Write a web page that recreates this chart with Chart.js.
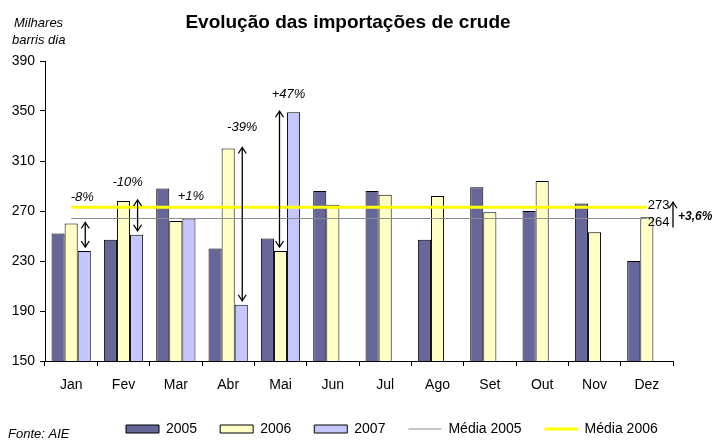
<!DOCTYPE html>
<html>
<head>
<meta charset="utf-8">
<script src="https://cdn.jsdelivr.net/npm/chart.js@4.4.0/dist/chart.umd.min.js"></script>
<style>
  html, body { margin: 0; padding: 0; background: #fff; }
  #wrap { width: 715px; height: 444px; }
</style>
</head>
<body>
<div id="wrap"><canvas id="importChart"></canvas></div>
<script>
const months = ['Jan', 'Fev', 'Mar', 'Abr', 'Mai', 'Jun', 'Jul', 'Ago', 'Set', 'Out', 'Nov', 'Dez'];
const imports2005 = [252, 247, 288, 240, 248, 286, 286, 247, 289, 270, 276, 230];
const imports2006 = [260, 278, 262, 320, 238, 275, 283, 282, 269, 294, 253, 265];
const imports2007 = [238, 251, 264, 195, 349, null, null, null, null, null, null, null];
const avg2005 = 264;
const avg2006 = 273;
const yMin = 150, yMax = 390, yStep = 40;

// 2007 vs 2006 change, per month
const changeMonths = ['Jan', 'Fev', 'Mar', 'Abr', 'Mai'];
const changeText = ['-8%', '-10%', '+1%', '-39%', '+47%'];
const arrowMonths = ['Jan', 'Fev', 'Abr', 'Mai'];
const avgChangeText = '+3,6%';

const FONT = 'Arial, "Liberation Sans", sans-serif';
Chart.defaults.font.family = FONT;
Chart.defaults.color = '#000';

function drawArrowHead(ctx, x, y, dir) {
    // dir = -1 points up, 1 points down
    ctx.beginPath();
    ctx.moveTo(x - 4, y - dir * 6);
    ctx.lineTo(x, y);
    ctx.lineTo(x + 4, y - dir * 6);
    ctx.stroke();
}

function drawArrow(ctx, x, yTop, yBottom, heads) {
    ctx.beginPath();
    ctx.moveTo(x, yTop);
    ctx.lineTo(x, yBottom);
    ctx.stroke();
    if (heads.top) drawArrowHead(ctx, x, yTop, -1);
    if (heads.bottom) drawArrowHead(ctx, x, yBottom, 1);
}

const annotations = {
    id: 'annotations',
    afterLayout(chart) {
        // place legend like the original (left-shifted, near bottom)
        const lg = chart.legend;
        const pad = lg.options.labels.padding;
        lg.left = 126 - pad;
        lg.right = chart.width;
        lg.top = 429 - 7 - pad;
    },
    afterDatasetsDraw(chart) {
        const ctx = chart.ctx;
        const y = chart.scales.y;
        const bars06 = chart.getDatasetMeta(1).data;
        const bars07 = chart.getDatasetMeta(2).data;
        ctx.save();
        ctx.strokeStyle = '#000';
        ctx.fillStyle = '#000';
        ctx.lineWidth = 1.3;

        // arrows between 2006 and 2007 bars
        arrowMonths.forEach(m => {
            const i = months.indexOf(m);
            const v06 = imports2006[i], v07 = imports2007[i];
            const x = v07 < v06 ? bars07[i].x + 1 : bars06[i].x - 1;
            const yHi = y.getPixelForValue(Math.max(v06, v07)) - 1;
            const yLo = y.getPixelForValue(Math.min(v06, v07)) - 4;
            drawArrow(ctx, x, yHi, yLo, { top: true, bottom: true });
        });

        // change labels
        const nudge = [[-2, -26], [-9, -19], [2, -22], [1, -21], [-5, -18]];
        ctx.font = 'italic 13px ' + FONT;
        ctx.textAlign = 'center';
        ctx.textBaseline = 'middle';
        changeMonths.forEach((m, k) => {
            const i = months.indexOf(m);
            const top = Math.max(imports2006[i], imports2007[i]);
            ctx.fillText(changeText[k], bars07[i].x + nudge[k][0], y.getPixelForValue(top) + nudge[k][1]);
        });

        // average labels on the right
        const lineEnd = chart.getDatasetMeta(4).data[months.length - 1].x;
        const yA6 = y.getPixelForValue(avg2006);
        const yA5 = y.getPixelForValue(avg2005);
        ctx.font = '13px ' + FONT;
        ctx.textAlign = 'left';
        ctx.fillText(String(avg2006), lineEnd + 1, yA6 - 2);
        ctx.fillText(String(avg2005), lineEnd + 1, yA5 + 4);
        const ax = chart.chartArea.right;
        drawArrow(ctx, ax, yA6 - 5, yA5 + 9, { top: true, bottom: false });
        ctx.font = 'bold italic 12px ' + FONT;
        ctx.fillText(avgChangeText, ax + 5, (yA6 + yA5) / 2 + 4);
        ctx.restore();
    },
    afterDraw(chart) {
        const ctx = chart.ctx;
        ctx.save();
        ctx.fillStyle = '#000';
        ctx.textBaseline = 'middle';
        ctx.textAlign = 'center';
        ctx.font = 'bold 19px ' + FONT;
        ctx.fillText('Evolução das importações de crude', 348, 23);
        ctx.textAlign = 'left';
        ctx.font = 'italic 13px ' + FONT;
        ctx.fillText('Milhares', 14, 23);
        ctx.fillText('barris dia', 12, 40);
        ctx.fillText('Fonte: AIE', 8, 434);
        ctx.restore();
    }
};

const ctx = document.getElementById('importChart').getContext('2d');
new Chart(ctx, {
    type: 'bar',
    data: {
        labels: months,
        datasets: [
            { label: '2005', data: imports2005, backgroundColor: '#666699', borderColor: '#000', borderWidth: 1, order: 1 },
            { label: '2006', data: imports2006, backgroundColor: '#FFFFC6', borderColor: '#000', borderWidth: 1, order: 1 },
            { label: '2007', data: imports2007, backgroundColor: '#C6C6FF', borderColor: '#000', borderWidth: 1, order: 1 },
            { type: 'line', label: 'Média 2005', data: months.map(() => avg2005), borderColor: '#8c8c8c', borderWidth: 1, pointRadius: 0, order: 0 },
            { type: 'line', label: 'Média 2006', data: months.map(() => avg2006), borderColor: '#FFFF00', borderWidth: 3, pointRadius: 0, order: 0 }
        ]
    },
    options: {
        responsive: true,
        maintainAspectRatio: false,
        animation: false,
        datasets: { bar: { categoryPercentage: 0.75, barPercentage: 1.0 } },
        layout: { padding: { left: 0, right: 42, top: 61, bottom: 0 } },
        scales: {
            x: {
                grid: { offset: true, drawOnChartArea: false, tickLength: 5, color: '#000' },
                border: { color: '#000' },
                ticks: { font: { size: 14 }, padding: 11, color: '#000' },
                afterFit(scale) {
                    scale.height = 444 - 361 - (scale.chart.legend ? scale.chart.legend.height : 0);
                }
            },
            y: {
                min: yMin,
                max: yMax,
                grid: { drawOnChartArea: false, tickLength: 5, color: '#000' },
                border: { color: '#000' },
                ticks: { stepSize: yStep, font: { size: 14 }, padding: 5, color: '#000' },
                afterFit(scale) { scale.width = 45; }
            }
        },
        plugins: {
            title: { display: false },
            tooltip: { enabled: false },
            legend: {
                position: 'bottom',
                align: 'start',
                labels: {
                    usePointStyle: true,
                    pointStyleWidth: 33,
                    boxHeight: 8,
                    padding: 23,
                    color: '#000',
                    font: { size: 14 },
                    sort: (a, b) => a.datasetIndex - b.datasetIndex,
                    generateLabels(chart) {
                        const items = Chart.defaults.plugins.legend.labels.generateLabels(chart);
                        return items.map(item => {
                            const ds = chart.data.datasets[item.datasetIndex];
                            if (ds.type === 'line') {
                                item.pointStyle = 'line';
                                item.strokeStyle = ds.borderColor;
                                item.lineWidth = ds.borderWidth;
                            } else {
                                item.pointStyle = 'rect';
                                item.fillStyle = ds.backgroundColor;
                                item.strokeStyle = '#000';
                                item.lineWidth = 1;
                            }
                            return item;
                        });
                    }
                }
            }
        }
    },
    plugins: [annotations]
});
</script>
</body>
</html>
